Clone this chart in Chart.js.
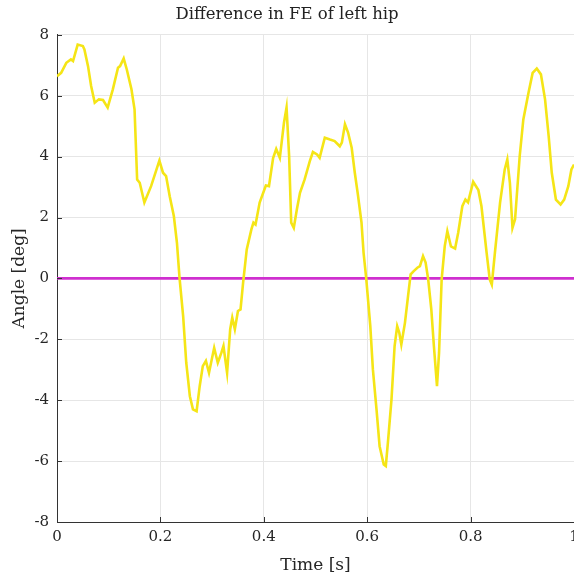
<!DOCTYPE html>
<html>
<head>
<meta charset="utf-8">
<script src="https://cdn.jsdelivr.net/npm/chart.js@4"></script>
<style>
  body { margin: 0; background: #fff; overflow: hidden; }
</style>
</head>
<body>
<canvas id="hipChart" width="574" height="580"></canvas>
<script>
// time [s] and angle difference [deg]
const times = [
  0.000, 0.008, 0.018, 0.027, 0.031, 0.040, 0.050, 0.053, 0.060, 0.066,
  0.073, 0.081, 0.089, 0.098, 0.108, 0.118, 0.122, 0.129, 0.135, 0.144,
  0.150, 0.155, 0.160, 0.169, 0.182, 0.198, 0.205, 0.211, 0.218, 0.226,
  0.232, 0.237, 0.244, 0.250, 0.257, 0.263, 0.270, 0.276, 0.282, 0.288,
  0.294, 0.304, 0.311, 0.318, 0.322, 0.329, 0.335, 0.339, 0.344, 0.350,
  0.355, 0.360, 0.367, 0.376, 0.380, 0.384, 0.392, 0.404, 0.410, 0.418,
  0.424, 0.431, 0.439, 0.444, 0.449, 0.453, 0.458, 0.464, 0.470, 0.479,
  0.489, 0.495, 0.503, 0.508, 0.518, 0.528, 0.537, 0.547, 0.551, 0.557,
  0.563, 0.570, 0.576, 0.582, 0.589, 0.593, 0.598, 0.606, 0.611, 0.618,
  0.624, 0.632, 0.636, 0.640, 0.647, 0.653, 0.658, 0.662, 0.666, 0.673,
  0.679, 0.684, 0.690, 0.697, 0.702, 0.708, 0.713, 0.718, 0.724, 0.729,
  0.735, 0.739, 0.744, 0.750, 0.755, 0.762, 0.770, 0.776, 0.784, 0.790,
  0.795, 0.805, 0.815, 0.821, 0.831, 0.837, 0.841, 0.847, 0.857, 0.866,
  0.871, 0.876, 0.881, 0.886, 0.895, 0.902, 0.912, 0.920, 0.928, 0.936,
  0.944, 0.951, 0.957, 0.965, 0.974, 0.981, 0.989, 0.995, 1.000
];
const angles = [
  6.64, 6.75, 7.08, 7.19, 7.14, 7.68, 7.63, 7.52, 6.97, 6.32,
  5.77, 5.88, 5.86, 5.61, 6.21, 6.92, 6.97, 7.22, 6.86, 6.21,
  5.55, 3.25, 3.14, 2.49, 3.03, 3.87, 3.47, 3.36, 2.70, 2.05,
  1.17, 0.02, -1.24, -2.77, -3.87, -4.30, -4.36, -3.54, -2.88, -2.71,
  -3.10, -2.28, -2.77, -2.44, -2.22, -3.10, -1.67, -1.29, -1.67, -1.07,
  -1.02, -0.14, 0.95, 1.61, 1.83, 1.77, 2.49, 3.05, 3.03, 3.95,
  4.25, 3.96, 5.11, 5.61, 4.02, 1.83, 1.66, 2.27, 2.81, 3.25,
  3.85, 4.15, 4.07, 3.96, 4.62, 4.56, 4.51, 4.34, 4.46, 5.06,
  4.79, 4.29, 3.47, 2.75, 1.83, 0.84, 0.02, -1.57, -2.99, -4.30,
  -5.51, -6.11, -6.16, -5.40, -3.97, -2.22, -1.57, -1.78, -2.17, -1.46,
  -0.58, 0.13, 0.24, 0.35, 0.40, 0.73, 0.52, -0.03, -1.02, -2.22,
  -3.54, -2.44, -0.03, 1.06, 1.55, 1.05, 0.98, 1.50, 2.37, 2.59,
  2.50, 3.17, 2.90, 2.37, 0.84, -0.03, -0.20, 0.84, 2.49, 3.58,
  3.91, 3.14, 1.66, 1.94, 4.02, 5.22, 6.10, 6.75, 6.89, 6.70,
  5.88, 4.67, 3.47, 2.59, 2.43, 2.59, 3.03, 3.58, 3.74
];
// zero reference line
const zeroTimes = [0, 1];
const zeroValues = [0, 0];

const xTicks = [0, 0.2, 0.4, 0.6, 0.8, 1];
const yTicks = [-8, -6, -4, -2, 0, 2, 4, 6, 8];

const serif = 'DejaVu Serif';

// MATLAB style inward tick marks on the left and bottom axes
const inwardTicks = {
    id: 'inwardTicks',
    afterDraw(chart) {
        const ctx = chart.ctx;
        const x = chart.scales.x, y = chart.scales.y;
        const area = chart.chartArea;
        ctx.save();
        ctx.strokeStyle = '#333';
        ctx.lineWidth = 1;
        ctx.beginPath();
        xTicks.forEach(v => {
            const px = Math.round(x.getPixelForValue(v)) + 0.5;
            ctx.moveTo(px, area.bottom);
            ctx.lineTo(px, area.bottom - 5);
        });
        yTicks.forEach(v => {
            const py = Math.round(y.getPixelForValue(v)) + 0.5;
            ctx.moveTo(area.left, py);
            ctx.lineTo(area.left + 5, py);
        });
        ctx.stroke();
        ctx.restore();
    }
};

const ctx = document.getElementById('hipChart').getContext('2d');
const chart = new Chart(ctx, {
    type: 'line',
    data: {
        datasets: [
            {
                label: 'Difference',
                data: times.map((t, i) => ({ x: t, y: angles[i] })),
                borderColor: '#f5e516',
                borderWidth: 2.6,
                pointRadius: 0,
                tension: 0,
                fill: false
            },
            {
                label: 'Zero',
                data: zeroTimes.map((t, i) => ({ x: t, y: zeroValues[i] })),
                borderColor: '#cf2fcf',
                borderWidth: 2.6,
                pointRadius: 0,
                fill: false
            }
        ]
    },
    options: {
        responsive: false,
        animation: false,
        layout: { padding: 0 },
        plugins: {
            legend: { display: false },
            tooltip: { enabled: false },
            title: {
                display: true,
                text: 'Difference in FE of left hip',
                color: '#222',
                font: { family: serif, size: 16.5, weight: 'normal' },
                padding: { top: 5, bottom: 10 }
            }
        },
        scales: {
            x: {
                type: 'linear',
                min: 0,
                max: 1,
                afterBuildTicks: scale => { scale.ticks = xTicks.map(v => ({ value: v })); },
                afterFit: scale => { scale.height = 58; scale.paddingRight = 0; scale.paddingLeft = 0; },
                ticks: {
                    color: '#262626',
                    padding: 6,
                    maxRotation: 0,
                    font: { family: serif, size: 15 },
                    callback: v => String(v)
                },
                grid: { color: '#e6e6e6', drawTicks: false },
                border: { display: true, color: '#333', width: 1 },
                title: {
                    display: true,
                    text: 'Time [s]',
                    color: '#262626',
                    font: { family: serif, size: 17 },
                    padding: { top: 0, bottom: 4 }
                }
            },
            y: {
                min: -8,
                max: 8,
                afterBuildTicks: scale => { scale.ticks = yTicks.map(v => ({ value: v })); },
                afterFit: scale => { scale.width = 57; },
                ticks: {
                    color: '#262626',
                    padding: 8,
                    font: { family: serif, size: 15 }
                },
                grid: { color: '#e6e6e6', drawTicks: false },
                border: { display: true, color: '#333', width: 1 },
                title: {
                    display: true,
                    text: 'Angle [deg]',
                    color: '#262626',
                    font: { family: serif, size: 17 },
                    padding: { top: 9, bottom: 0 }
                }
            }
        }
    },
    plugins: [inwardTicks]
});
</script>
</body>
</html>
